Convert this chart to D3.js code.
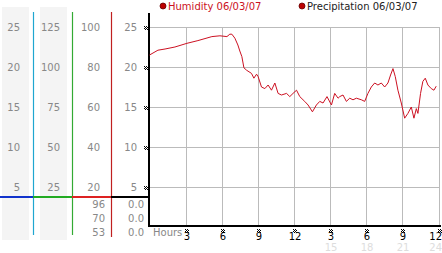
<!DOCTYPE html>
<html>
<head>
<meta charset="utf-8">
<script src="https://cdn.jsdelivr.net/npm/d3@7"></script>
<style>
  body { margin: 0; background: #fff; }
  svg { display: block; font-family: "DejaVu Sans", sans-serif; }
</style>
</head>
<body>
<div class="graphic"></div>
<script>
// hours since start, humidity reading
const hours = [0, 0.7, 1.29, 2.11, 3.11, 4.02, 5.18, 5.85, 6.43, 6.67, 6.84, 7.09, 7.34, 7.5, 7.67, 7.84,
  8.06, 8.47, 8.67, 8.89, 9.02, 9.3, 9.58, 9.85, 10.13, 10.41, 10.68, 10.96, 11.38, 11.65, 11.92,
  12.21, 12.48, 12.89, 13.17, 13.53, 13.86, 14.14, 14.41, 14.74, 15.11, 15.38, 15.66, 15.8, 16.07,
  16.35, 16.63, 16.9, 17.18, 17.6, 17.87, 18.14, 18.42, 18.7, 18.97, 19.25, 19.53, 19.8, 20.02,
  20.22, 20.41, 20.63, 20.91, 21.19, 21.46, 21.74, 21.96, 22.16, 22.29, 22.51, 22.7, 22.9, 23.12,
  23.4, 23.62, 23.81];
const humidity = [21.5, 22.1, 22.25, 22.5, 22.96, 23.3, 23.8, 23.9, 23.8, 24.1, 24.1, 23.6, 22.75, 22.0, 21.3, 19.9,
  19.6, 19.2, 18.6, 19.1, 18.8, 17.5, 17.3, 17.75, 17.1, 18.0, 16.7, 16.5, 16.7, 16.3, 16.7,
  17.1, 16.3, 15.7, 15.25, 14.4, 15.25, 15.7, 15.5, 16.3, 15.25, 16.7, 16.1, 16.3, 16.5,
  15.7, 16.1, 15.9, 16.1, 15.9, 15.7, 16.7, 17.5, 18.0, 17.75, 18.0, 17.5, 18.0, 19.0,
  19.8, 18.8, 17.1, 15.5, 13.6, 14.2, 15.0, 13.6, 14.8, 14.2, 16.7, 18.2, 18.6, 17.75,
  17.3, 17.1, 17.6];

const yTicks = [5, 10, 15, 20, 25];
const col1Labels = ["5", "10", "15", "20", "25"];
const col2Labels = ["25", "50", "75", "100", "125"];
const col3Labels = ["20", "40", "60", "80", "100"];
const col4Labels = ["5", "10", "15", "20", "25"];
const lowRows = [0, 1, 2];
const col3Low = ["96", "70", "53"];
const col4Low = ["0.0", "0.0", "0.0"];

const xTicks = [3, 6, 9, 12, 15, 18, 21, 24];
const xTickLabels = ["3", "6", "9", "12", "3", "6", "9", "12"];
const xSubLabels = ["", "", "", "", "15", "18", "21", "24"];

const legendNames = ["Humidity 06/03/07", "Precipitation 06/03/07"];

const W = 442, H = 253;
const svg = d3.select(".graphic").append("svg")
  .attr("width", W).attr("height", H);

const x = d3.scaleLinear().domain([0, 24]).range([149.5, 438.5]);
const y = d3.scaleLinear().domain([0, 25]).range([227, 27]);
const rowY = d3.scalePoint().domain(lowRows).range([204, 232]);

// tiny checker pattern used for tick markers
const pat = svg.append("defs").append("pattern")
  .attr("id", "chk").attr("width", 2).attr("height", 2)
  .attr("patternUnits", "userSpaceOnUse");
pat.append("rect").attr("x", 0).attr("y", 0).attr("width", 1).attr("height", 1).attr("fill", "#000");
pat.append("rect").attr("x", 1).attr("y", 1).attr("width", 1).attr("height", 1).attr("fill", "#000");

// grey panels on the left
svg.append("rect").attr("x", 2).attr("y", 7).attr("width", 27).attr("height", 233).attr("fill", "#f4f4f4");
svg.append("rect").attr("x", 40).attr("y", 7).attr("width", 27).attr("height", 233).attr("fill", "#f4f4f4");

// grid
svg.append("g").selectAll("line").data(yTicks).join("line")
  .attr("x1", 149).attr("x2", 440)
  .attr("y1", d => y(d) + 0.5).attr("y2", d => y(d) + 0.5)
  .attr("stroke", "#bbb");
svg.append("g").selectAll("line").data(xTicks).join("line")
  .attr("x1", d => Math.round(x(d)) + 0.5).attr("x2", d => Math.round(x(d)) + 0.5)
  .attr("y1", y(25)).attr("y2", 226)
  .attr("stroke", "#bbb");

// column divider lines
const dividers = [
  {x: 33.5, c: "#1fa6d0", y2: 235},
  {x: 72.5, c: "#33aa33", y2: 235},
  {x: 111.5, c: "#c02020", y2: 237}
];
svg.append("g").selectAll("line").data(dividers).join("line")
  .attr("x1", d => d.x).attr("x2", d => d.x)
  .attr("y1", 12).attr("y2", d => d.y2)
  .attr("stroke", d => d.c).attr("stroke-width", 1.2);

// coloured separator
const seps = [
  {x1: 0, x2: 33, c: "#1133cc"},
  {x1: 33, x2: 72, c: "#22aa22"},
  {x1: 72, x2: 111, c: "#dd2222"},
  {x1: 111, x2: 149, c: "#000"}
];
svg.append("g").selectAll("line").data(seps).join("line")
  .attr("x1", d => d.x1).attr("x2", d => d.x2)
  .attr("y1", 197).attr("y2", 197)
  .attr("stroke", d => d.c).attr("stroke-width", 2);

// left column labels
const cols = [
  {labels: col1Labels, right: 20},
  {labels: col2Labels, right: 60},
  {labels: col3Labels, right: 100},
  {labels: col4Labels, right: 137}
];
cols.forEach(col => {
  svg.append("g").selectAll("text").data(yTicks).join("text")
    .attr("x", col.right).attr("y", d => y(d) + 4)
    .attr("text-anchor", "end")
    .attr("font-size", 10).attr("fill", "#888")
    .text((d, i) => col.labels[i]);
});
svg.append("g").selectAll("text").data(lowRows).join("text")
  .attr("x", 105).attr("y", d => rowY(d) + 4)
  .attr("text-anchor", "end").attr("font-size", 10).attr("fill", "#888")
  .text(d => col3Low[d]);
svg.append("g").selectAll("text").data(lowRows).join("text")
  .attr("x", 144).attr("y", d => rowY(d) + 4)
  .attr("text-anchor", "end").attr("font-size", 10).attr("fill", "#888")
  .text(d => col4Low[d]);

// y tick markers
svg.append("g").selectAll("rect").data(yTicks).join("rect")
  .attr("x", 144).attr("y", d => y(d) - 1)
  .attr("width", 4).attr("height", 4).attr("fill", "url(#chk)");

// axes
svg.append("line").attr("x1", 149).attr("x2", 149).attr("y1", 13).attr("y2", 227)
  .attr("stroke", "#000").attr("stroke-width", 2);
svg.append("line").attr("x1", 148).attr("x2", 441).attr("y1", 226).attr("y2", 226)
  .attr("stroke", "#000").attr("stroke-width", 2);

// x ticks
const last = xTicks.length - 1;
const xt = svg.append("g").selectAll("g").data(xTicks).join("g")
  .attr("transform", d => `translate(${Math.round(x(d))},0)`);
xt.append("rect").attr("x", -1).attr("y", 229).attr("width", 4).attr("height", 4).attr("fill", "url(#chk)");
xt.append("text")
  .attr("x", (d, i) => i === last ? 3 : 1).attr("y", 240)
  .attr("text-anchor", (d, i) => i === last ? "end" : "middle")
  .attr("font-size", 10).attr("fill", "#000")
  .text((d, i) => xTickLabels[i]);
xt.append("text")
  .attr("x", (d, i) => i === last ? 3 : 1).attr("y", 251)
  .attr("text-anchor", (d, i) => i === last ? "end" : "middle")
  .attr("font-size", 10).attr("fill", "#ddd")
  .text((d, i) => xSubLabels[i]);
svg.append("text").attr("x", 153).attr("y", 236)
  .attr("font-size", 10).attr("fill", "#888").text("Hours");

// humidity line
const line = d3.line().x(d => x(d[0])).y(d => y(d[1]));
svg.append("path")
  .datum(hours.map((h, i) => [h, humidity[i]]))
  .attr("d", line)
  .attr("fill", "none").attr("stroke", "#cc1122").attr("stroke-width", 1);

// legend
const legend = [
  {x: 163, c: "#cc1122"},
  {x: 302, c: "#222"}
];
const lg = svg.append("g").selectAll("g").data(legend).join("g")
  .attr("transform", d => `translate(${d.x},6)`);
lg.append("circle").attr("r", 3).attr("fill", "#bb0000").attr("stroke", "#660000").attr("stroke-width", 0.8);
lg.append("text").attr("x", 5).attr("y", 4).attr("font-size", 10)
  .attr("fill", d => d.c).text((d, i) => legendNames[i]);
</script>
</body>
</html>
